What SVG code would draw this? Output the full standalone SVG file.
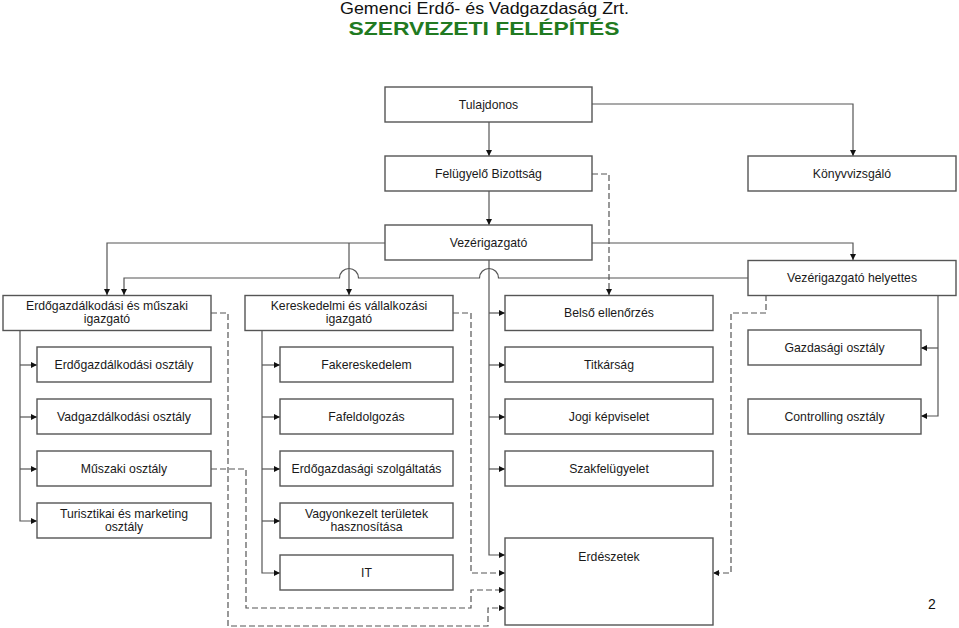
<svg xmlns="http://www.w3.org/2000/svg" width="959" height="628" viewBox="0 0 959 628">
<defs>
<marker id="ah" viewBox="0 0 10 10" refX="10" refY="5" markerWidth="8" markerHeight="6" markerUnits="userSpaceOnUse" orient="auto">
<path d="M0,0 L10,5 L0,10 Z" fill="#111"/>
</marker>
<style>
.box{fill:#fff;stroke:#555;stroke-width:1.4}
.lbl{font-family:"Liberation Sans",Arial,sans-serif;font-size:12.25px;fill:#1a1a1a;text-anchor:middle}
.ln{fill:none;stroke:#555;stroke-width:1.2;marker-end:url(#ah)}
.lnn{fill:none;stroke:#555;stroke-width:1.2}
.ds{fill:none;stroke:#555;stroke-width:1.2;stroke-dasharray:6 3;marker-end:url(#ah)}
</style>
</defs>
<rect width="959" height="628" fill="#fff"/>
<g id="title">
<text x="484.5" y="13.5" font-family="Liberation Sans, Arial, sans-serif" font-size="16.5" fill="#111" text-anchor="middle" textLength="289" lengthAdjust="spacingAndGlyphs">Gemenci Erdő- és Vadgazdaság Zrt.</text>
<text x="484" y="35" font-family="Liberation Sans, Arial, sans-serif" font-size="19" font-weight="bold" fill="#217a21" text-anchor="middle" textLength="271" lengthAdjust="spacingAndGlyphs">SZERVEZETI FELÉPÍTÉS</text>
</g>
<g id="connectors">
<path class="ln" d="M489,122 V156"/>
<path class="ln" d="M592,104 H853 V156"/>
<path class="ln" d="M489,191 V225"/>
<path class="ln" d="M385,243 H107 V295"/>
<path class="ln" d="M349,243 V295"/>
<path class="ln" d="M592,243 H853 V260"/>
<path class="ln" d="M748,278 H498.5 A9.5,9.5 0 0 0 479.5,278 H358.5 A9.5,9.5 0 0 0 339.5,278 H124 V295"/>
<path class="ln" d="M489,260 V555 H505"/>
<path class="ln" d="M489,313 H505"/>
<path class="ln" d="M489,365 H505"/>
<path class="ln" d="M489,417 H505"/>
<path class="ln" d="M489,469 H505"/>
<path class="ln" d="M20,330 V521 H37"/>
<path class="ln" d="M20,365 H37"/>
<path class="ln" d="M20,417 H37"/>
<path class="ln" d="M20,469 H37"/>
<path class="ln" d="M262,330 V573 H280"/>
<path class="ln" d="M262,365 H280"/>
<path class="ln" d="M262,417 H280"/>
<path class="ln" d="M262,469 H280"/>
<path class="ln" d="M262,521 H280"/>
<path class="ln" d="M938,295 V416 H921"/>
<path class="ln" d="M938,348 H921"/>
<path class="ds" d="M592,174 H609 V295"/>
<path class="ds" d="M211,313 H228 V626 H488 V608 H505"/>
<path class="ds" d="M453,313 H471 V573 H505"/>
<path class="ds" d="M211,469 H246 V608 H471 V590 H505"/>
<path class="ds" d="M766,295 V313 H731 V573 H713"/>
</g>
<g id="n-tulajdonos"><rect class="box" x="385" y="87" width="207" height="35"/><text class="lbl" x="488.5" y="108.5">Tulajdonos</text></g>
<g id="n-felugyelo"><rect class="box" x="385" y="156" width="207" height="35"/><text class="lbl" x="488.5" y="177.5">Felügyelő Bizottság</text></g>
<g id="n-konyvvizsgalo"><rect class="box" x="748" y="156" width="208" height="35"/><text class="lbl" x="852" y="177.5">Könyvvizsgáló</text></g>
<g id="n-vezerigazgato"><rect class="box" x="385" y="225" width="207" height="35"/><text class="lbl" x="488.5" y="246.5">Vezérigazgató</text></g>
<g id="n-vh"><rect class="box" x="748" y="260.5" width="208" height="35"/><text class="lbl" x="852" y="282">Vezérigazgató helyettes</text></g>
<g id="n-egmi"><rect class="box" x="3" y="295.5" width="208" height="35"/><text class="lbl" x="107" y="309.5">Erdőgazdálkodási és műszaki</text><text class="lbl" x="107" y="322.5">igazgató</text></g>
<g id="n-kvi"><rect class="box" x="245" y="295.5" width="208" height="35"/><text class="lbl" x="349" y="309.5">Kereskedelmi és vállalkozási</text><text class="lbl" x="349" y="322.5">igazgató</text></g>
<g id="n-belso"><rect class="box" x="505" y="295.5" width="208" height="35"/><text class="lbl" x="609" y="317">Belső ellenőrzés</text></g>
<g id="n-erdogazd"><rect class="box" x="37" y="347" width="174" height="35"/><text class="lbl" x="124" y="368.5">Erdőgazdálkodási osztály</text></g>
<g id="n-vadgazd"><rect class="box" x="37" y="399" width="174" height="35"/><text class="lbl" x="124" y="420.5">Vadgazdálkodási osztály</text></g>
<g id="n-muszaki"><rect class="box" x="37" y="451" width="174" height="35"/><text class="lbl" x="124" y="472.5">Műszaki osztály</text></g>
<g id="n-turisztikai"><rect class="box" x="37" y="503" width="174" height="35"/><text class="lbl" x="124" y="517.5">Turisztikai és marketing</text><text class="lbl" x="124" y="530.5">osztály</text></g>
<g id="n-fakereskedelem"><rect class="box" x="280" y="347" width="173" height="35"/><text class="lbl" x="366.5" y="368.5">Fakereskedelem</text></g>
<g id="n-fafeldolgozas"><rect class="box" x="280" y="399" width="173" height="35"/><text class="lbl" x="366.5" y="420.5">Fafeldolgozás</text></g>
<g id="n-szolgaltatas"><rect class="box" x="280" y="451" width="173" height="35"/><text class="lbl" x="366.5" y="472.5">Erdőgazdasági szolgáltatás</text></g>
<g id="n-vagyonkezelt"><rect class="box" x="280" y="503" width="173" height="35"/><text class="lbl" x="366.5" y="517.5">Vagyonkezelt területek</text><text class="lbl" x="366.5" y="530.5">hasznosítása</text></g>
<g id="n-it"><rect class="box" x="280" y="555" width="173" height="35"/><text class="lbl" x="366.5" y="576.5">IT</text></g>
<g id="n-titkarsag"><rect class="box" x="505" y="347" width="208" height="35"/><text class="lbl" x="609" y="368.5">Titkárság</text></g>
<g id="n-jogi"><rect class="box" x="505" y="399" width="208" height="35"/><text class="lbl" x="609" y="420.5">Jogi képviselet</text></g>
<g id="n-szakfelugyelet"><rect class="box" x="505" y="451" width="208" height="35"/><text class="lbl" x="609" y="472.5">Szakfelügyelet</text></g>
<g id="n-erdeszetek"><rect class="box" x="505" y="538" width="208" height="87"/><text class="lbl" x="609" y="560.5">Erdészetek</text></g>
<g id="n-gazdasagi"><rect class="box" x="748" y="330" width="173" height="35"/><text class="lbl" x="834.5" y="351.5">Gazdasági osztály</text></g>
<g id="n-controlling"><rect class="box" x="748" y="399" width="173" height="35"/><text class="lbl" x="834.5" y="420.5">Controlling osztály</text></g>
<text x="932" y="608.5" font-family="Liberation Sans, Arial, sans-serif" font-size="14" fill="#111" text-anchor="middle">2</text>
</svg>
